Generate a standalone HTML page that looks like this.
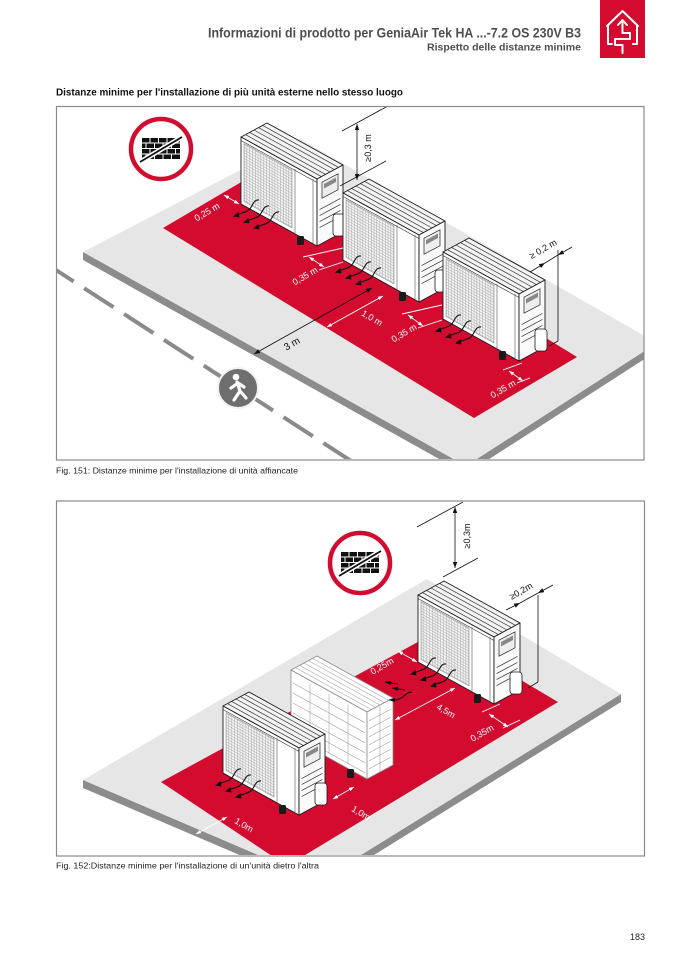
<!DOCTYPE html>
<html><head><meta charset="utf-8"><style>
html,body{margin:0;padding:0;background:#fff;}
svg{display:block;}
text{font-family:"Liberation Sans",sans-serif;}
</style></head><body>
<svg width="677" height="958" viewBox="0 0 677 958" xmlns="http://www.w3.org/2000/svg" xmlns:xlink="http://www.w3.org/1999/xlink">
<defs>
 <pattern id="grid" width="2.8" height="2.8" patternUnits="userSpaceOnUse" patternTransform="skewY(28.9)">
  <rect width="2.8" height="2.8" fill="#f3f3f3"/>
  <path d="M0,0.25 H2.8 M0.25,0 V2.8" stroke="#a6a6a6" stroke-width="0.5"/>
 </pattern>
 <marker id="mb" viewBox="0 0 8 6" refX="8" refY="3" markerWidth="6" markerHeight="4.5" markerUnits="userSpaceOnUse" orient="auto-start-reverse"><path d="M0,0 L8,3 L0,6 z" fill="#111"/></marker>
 <marker id="mw" viewBox="0 0 8 6" refX="8" refY="3" markerWidth="5" markerHeight="4" markerUnits="userSpaceOnUse" orient="auto-start-reverse"><path d="M0,0 L8,3 L0,6 z" fill="#fff"/></marker>
 <clipPath id="c1"><rect x="57" y="107" width="587" height="352"/></clipPath>
 <clipPath id="c2"><rect x="57" y="502" width="587" height="353"/></clipPath>

 <g id="arr">
  <path d="M18,63 C11,62 12,73 4,75 L-3,77.5" fill="none" stroke="#111" stroke-width="1.1"/>
  <polygon points="-8,79.5 -2.5,75 -1.5,80.5" fill="#111"/>
 </g>

 <g id="unit">
  <polygon points="0,0 26,-14 102,28 76,42" fill="#f3f3f3" stroke="#1a1a1a" stroke-width="0.9" stroke-linejoin="round"/>
  <path d="M4.4,-2.4 L80.4,39.6 M8.6,-4.6 L84.6,37.4 M13,-7 L89,35 M17.4,-9.4 L93.4,32.6 M21.6,-11.6 L97.6,30.4" stroke="#333" stroke-width="0.7"/>
  <polygon points="0,0 76,42 76,109 0,67" fill="#fff" stroke="#1a1a1a" stroke-width="0.9" stroke-linejoin="round"/>
  <path d="M0,3.5 L76,45.5" stroke="#333" stroke-width="0.6"/>
  <polygon points="3,6.5 51,33 51,91 3,64.5" fill="url(#grid)" stroke="#777" stroke-width="0.5"/>
  <path d="M54,32 V96 M72,42 V106" stroke="#555" stroke-width="0.6"/>
  <polygon points="76,42 102,28 102,95 76,109" fill="#fafafa" stroke="#1a1a1a" stroke-width="0.9" stroke-linejoin="round"/>
  <polygon points="81,45.2 97,36.8 97,52.8 81,61.2" fill="#eee" stroke="#222" stroke-width="0.7"/>
  <polygon points="83,47 95,40.5 95,45 83,51.5" fill="#888"/>
  <path d="M78.6,72.6 L99.4,61.4 M78.6,78.6 L99.4,67.4 M78.6,84.6 L99.4,73.4 M78.6,90.6 L99.4,79.4" stroke="#333" stroke-width="0.7"/>
  <rect x="56" y="99" width="7" height="9" rx="1.5" fill="#1a1a1a"/>
  <rect x="92" y="77" width="12" height="22" rx="3" fill="#fff" stroke="#1a1a1a" stroke-width="0.8"/>
  <use href="#arr" xlink:href="#arr"/>
  <use href="#arr" xlink:href="#arr" transform="translate(10,6)"/>
  <use href="#arr" xlink:href="#arr" transform="translate(20,12)"/>
 </g>

 <g id="ghost">
  <polygon points="0,0 26,-14 102,28 76,42" fill="#fff" stroke="#8a8a8a" stroke-width="0.8" stroke-linejoin="round"/>
  <path d="M4.4,-2.4 L80.4,39.6 M8.6,-4.6 L84.6,37.4 M13,-7 L89,35 M17.4,-9.4 L93.4,32.6 M21.6,-11.6 L97.6,30.4" stroke="#aaa" stroke-width="0.6"/>
  <polygon points="0,0 76,42 76,109 0,67" fill="#fff" stroke="#8a8a8a" stroke-width="0.8" stroke-linejoin="round"/>
  <path d="M19,13.5 V73.5 M38,24 V84 M57,34.5 V94.5 M2,13 L74,52.8 M2,23 L74,62.8 M2,33 L74,72.8 M2,43 L74,82.8 M2,53 L74,92.8 M2,63 L74,102.8" stroke="#a5a5a5" stroke-width="0.6"/>
  <polygon points="76,42 102,28 102,95 76,109" fill="#fff" stroke="#8a8a8a" stroke-width="0.8" stroke-linejoin="round"/>
  <path d="M78,50.9 L100,39.1 M78,58.9 L100,47.1 M78,66.9 L100,55.1 M78,74.9 L100,63.1 M78,82.9 L100,71.1 M78,90.9 L100,79.1 M78,98.9 L100,87.1 M89,36 V102" stroke="#a0a0a0" stroke-width="0.6"/>
  <rect x="56" y="99" width="7" height="9" rx="1.5" fill="#1a1a1a"/>
 </g>

 <g id="nowall">
  <circle r="30" fill="#fff" stroke="#d20b2f" stroke-width="4.5"/>
  <g fill="#111">
   <rect x="-19" y="-11" width="7.5" height="4.5"/><rect x="-10.5" y="-11" width="7.5" height="4.5"/><rect x="-2" y="-11" width="7.5" height="4.5"/><rect x="6.5" y="-11" width="7.5" height="4.5"/><rect x="15" y="-11" width="4" height="4.5"/>
   <rect x="-19" y="-5.5" width="3.5" height="4.5"/><rect x="-14.5" y="-5.5" width="7.5" height="4.5"/><rect x="-6" y="-5.5" width="7.5" height="4.5"/><rect x="2.5" y="-5.5" width="7.5" height="4.5"/><rect x="11" y="-5.5" width="8" height="4.5"/>
   <rect x="-19" y="0" width="7.5" height="4.5"/><rect x="-10.5" y="0" width="7.5" height="4.5"/><rect x="-2" y="0" width="7.5" height="4.5"/><rect x="6.5" y="0" width="7.5" height="4.5"/><rect x="15" y="0" width="4" height="4.5"/>
   <rect x="-19" y="5.5" width="3.5" height="4.5"/><rect x="-14.5" y="5.5" width="7.5" height="4.5"/><rect x="-6" y="5.5" width="7.5" height="4.5"/><rect x="2.5" y="5.5" width="7.5" height="4.5"/><rect x="11" y="5.5" width="8" height="4.5"/>
  </g>
  <line x1="-21" y1="13" x2="21" y2="-12" stroke="#fff" stroke-width="5"/>
  <line x1="-21" y1="13" x2="21" y2="-12" stroke="#111" stroke-width="1.8"/>
 </g>
</defs>

<rect width="677" height="958" fill="#fff"/>

<!-- Header -->
<text x="581" y="37.3" text-anchor="end" font-size="14" font-weight="bold" fill="#4e4e4e" textLength="373" lengthAdjust="spacingAndGlyphs">Informazioni di prodotto per GeniaAir Tek HA ...-7.2 OS 230V B3</text>
<text x="581" y="50.7" text-anchor="end" font-size="10" font-weight="bold" fill="#4e4e4e" textLength="154" lengthAdjust="spacingAndGlyphs">Rispetto delle distanze minime</text>
<rect x="600" y="0" width="45" height="58" fill="#d20b2f"/>
<g fill="none" stroke="#fff" stroke-width="2" stroke-linecap="round" stroke-linejoin="round">
 <path d="M607,26 L622.5,11 L638,26"/>
 <path d="M608,26 V44 H612 M637,26 V44 H633"/>
 <path d="M622.5,33 V21 M618,25 L622.5,20 L627,25"/>
 <path d="M622.5,33 H630 V39 H615 V45 H622.5 V53"/>
</g>

<text x="56" y="95.5" font-size="10.5" font-weight="bold" fill="#111" textLength="347" lengthAdjust="spacingAndGlyphs">Distanze minime per l'installazione di più unità esterne nello stesso luogo</text>

<!-- Figure 1 -->
<g clip-path="url(#c1)">
 <polygon points="83,252 466,466 657,343 657,351 466,474 83,260" fill="#8c8c8c"/>
 <polygon points="83,252 300,139 657,343 466,466" fill="#e6e6e6"/>
 <polygon points="163,228 267,167 577,357 474,418" fill="#d20b2f"/>
 <line x1="56" y1="270" x2="362" y2="468" stroke="#8a8a8a" stroke-width="4" stroke-dasharray="35 12.5" stroke-dashoffset="14"/>
 <g transform="translate(238,388)">
  <circle r="20" fill="#6e6e6e" stroke="#f2f2f2" stroke-width="2"/>
  <circle cx="-2" cy="-11" r="3.3" fill="#fff"/>
  <path d="M-1,-6 L2,3 M2,3 L-4,12 M2,3 L8,10 M0,-5 L-7,0 M0,-5 L6,-1" stroke="#fff" stroke-width="3.2" stroke-linecap="round" fill="none"/>
 </g>
 <use href="#nowall" xlink:href="#nowall" transform="translate(161,149)"/>
 <use href="#unit" xlink:href="#unit" transform="translate(241,137)"/>
 <use href="#unit" xlink:href="#unit" transform="translate(343,193)"/>
 <use href="#unit" xlink:href="#unit" transform="translate(443,252)"/>

 <g stroke="#111" stroke-width="0.8" fill="none">
  <line x1="357" y1="124" x2="357" y2="180" marker-start="url(#mb)" marker-end="url(#mb)"/>
  <line x1="342" y1="131" x2="388" y2="106"/>
  <line x1="340" y1="186" x2="386" y2="161"/>
  <line x1="254" y1="354" x2="372" y2="288" marker-start="url(#mb)" marker-end="url(#mb)"/>
  <line x1="530" y1="272" x2="545" y2="263" marker-end="url(#mb)"/>
  <line x1="572" y1="247" x2="558" y2="255" marker-end="url(#mb)"/>
  <line x1="545" y1="263" x2="558" y2="255"/>
  <line x1="558" y1="250" x2="558" y2="341"/>
  <line x1="558" y1="341" x2="549" y2="346"/>
 </g>
 <g stroke="#fff" stroke-width="0.9" fill="none">
  <line x1="224" y1="195" x2="239" y2="204" marker-start="url(#mw)" marker-end="url(#mw)"/>
  <line x1="309" y1="257" x2="324" y2="267" marker-start="url(#mw)" marker-end="url(#mw)"/>
  <line x1="303" y1="257" x2="343" y2="248"/>
  <line x1="319" y1="270" x2="343" y2="262"/>
  <line x1="327" y1="327" x2="383" y2="296" marker-start="url(#mw)" marker-end="url(#mw)"/>
  <line x1="408" y1="315" x2="423" y2="326" marker-start="url(#mw)" marker-end="url(#mw)"/>
  <line x1="402" y1="314" x2="442" y2="305"/>
  <line x1="418" y1="328" x2="442" y2="320"/>
  <line x1="509" y1="371" x2="523" y2="381" marker-start="url(#mw)" marker-end="url(#mw)"/>
  <line x1="503" y1="370" x2="522" y2="363"/>
  <line x1="517" y1="383" x2="530" y2="378"/>
 </g>
 <g font-size="9" text-anchor="middle">
  <text transform="translate(207,212) rotate(-30)" dy="3" fill="#fff">0,25 m</text>
  <text transform="translate(305,276) rotate(-30)" dy="3" fill="#fff">0,35 m</text>
  <text transform="translate(372,318) rotate(30)" dy="3" fill="#fff">1,0 m</text>
  <text transform="translate(404,333) rotate(-30)" dy="3" fill="#fff">0,35 m</text>
  <text transform="translate(503,389) rotate(-30)" dy="3" fill="#fff">0,35 m</text>
  <text transform="translate(292,344) rotate(-30)" dy="3" fill="#111" font-size="10">3 m</text>
  <text transform="translate(543,249) rotate(-30)" dy="3" fill="#111">≥ 0,2 m</text>
  <text transform="translate(371,148) rotate(-90)" fill="#111">≥0,3 m</text>
 </g>
</g>
<rect x="56.5" y="106.5" width="587.5" height="353.5" fill="none" stroke="#8a8a8a" stroke-width="1.2"/>
<text x="56" y="473.3" font-size="8.5" fill="#222" textLength="242" lengthAdjust="spacingAndGlyphs">Fig. 151: Distanze minime per l'installazione di unità affiancate</text>

<!-- Figure 2 -->
<g clip-path="url(#c2)">
 <polygon points="83,780 319,881 621,694 621,702 319,889 83,788" fill="#8c8c8c"/>
 <polygon points="83,780 427,579 621,694 319,881" fill="#e6e6e6"/>
 <polygon points="161,782 438,631 558,702 287,866" fill="#d20b2f"/>
 <use href="#nowall" xlink:href="#nowall" transform="translate(360,563)"/>
 <use href="#unit" xlink:href="#unit" transform="translate(418,595)"/>
 <use href="#ghost" xlink:href="#ghost" transform="translate(291,670)"/>
 <use href="#unit" xlink:href="#unit" transform="translate(223,706)"/>

 <g stroke="#111" stroke-width="1" fill="none">
  <line x1="398" y1="684" x2="385" y2="682" marker-end="url(#mb)"/>
  <line x1="405" y1="690" x2="392" y2="688" marker-end="url(#mb)"/>
  <path d="M412,692 C405,692 404,699 396,700 L389,700" marker-end="url(#mb)"/>
 </g>

 <g stroke="#111" stroke-width="0.8" fill="none">
  <line x1="455" y1="507" x2="455" y2="568" marker-start="url(#mb)" marker-end="url(#mb)"/>
  <line x1="417" y1="527" x2="463" y2="502"/>
  <line x1="443" y1="577" x2="478" y2="558"/>
  <line x1="506" y1="610" x2="520" y2="603" marker-end="url(#mb)"/>
  <line x1="553" y1="585" x2="538" y2="593" marker-end="url(#mb)"/>
  <line x1="520" y1="603" x2="538" y2="593"/>
  <line x1="538" y1="595" x2="538" y2="682"/>
  <line x1="538" y1="682" x2="528" y2="688"/>
 </g>
 <g stroke="#fff" stroke-width="0.9" fill="none">
  <line x1="398" y1="651" x2="417" y2="662" marker-start="url(#mw)" marker-end="url(#mw)"/>
  <line x1="395" y1="720" x2="455" y2="688" marker-start="url(#mw)" marker-end="url(#mw)"/>
  <line x1="489" y1="714" x2="508" y2="727" marker-start="url(#mw)" marker-end="url(#mw)"/>
  <line x1="482" y1="712" x2="500" y2="704"/>
  <line x1="503" y1="728" x2="520" y2="720"/>
  <line x1="333" y1="799" x2="354" y2="787" marker-start="url(#mw)" marker-end="url(#mw)"/>
  <line x1="196" y1="834" x2="227" y2="817" marker-start="url(#mw)" marker-end="url(#mw)"/>
 </g>
 <g font-size="9" text-anchor="middle">
  <text transform="translate(382,666) rotate(-30)" dy="3" fill="#fff">0,25m</text>
  <text transform="translate(446,711) rotate(30)" dy="3" fill="#fff">4,5m</text>
  <text transform="translate(482,733) rotate(-30)" dy="3" fill="#fff">0,35m</text>
  <text transform="translate(361,813) rotate(30)" dy="3" fill="#fff">1,0m</text>
  <text transform="translate(244,825) rotate(30)" dy="3" fill="#fff">1,0m</text>
  <text transform="translate(521,591) rotate(-30)" dy="3" fill="#111">≥0,2m</text>
  <text transform="translate(470,536) rotate(-90)" fill="#111">≥0,3m</text>
 </g>
</g>
<rect x="56.5" y="501" width="588" height="355" fill="none" stroke="#8a8a8a" stroke-width="1.2"/>
<text x="56" y="868.5" font-size="8.5" fill="#222" textLength="263" lengthAdjust="spacingAndGlyphs">Fig. 152:Distanze minime per l'installazione di un'unità dietro l'altra</text>

<text x="645" y="940" text-anchor="end" font-size="9" fill="#222">183</text>
</svg>
</body></html>
